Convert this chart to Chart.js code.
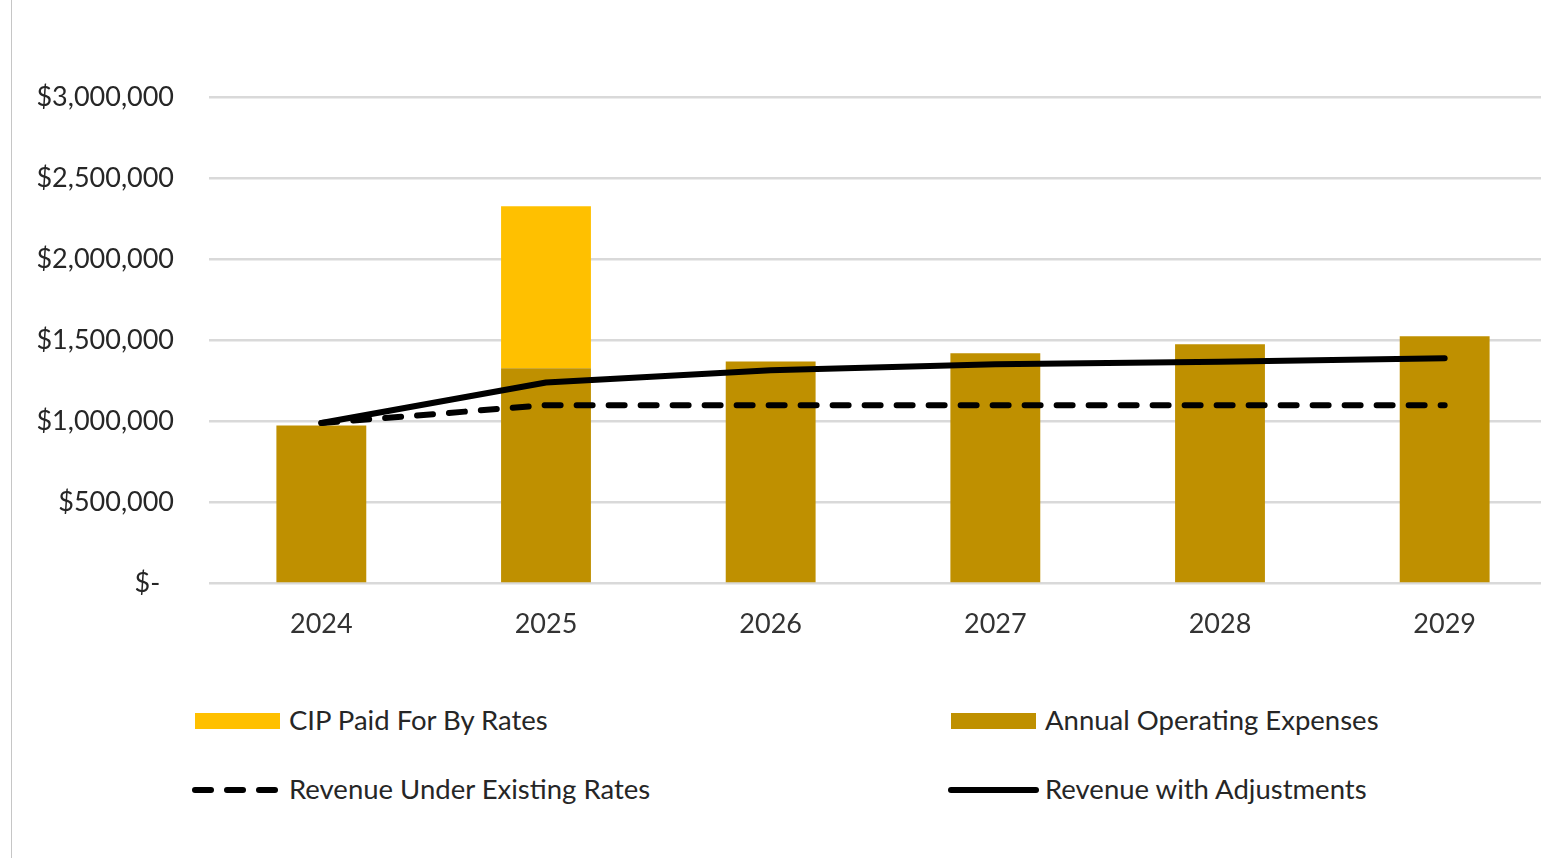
<!DOCTYPE html>
<html>
<head>
<meta charset="utf-8">
<script src="https://cdn.jsdelivr.net/npm/chart.js@4.4.1/dist/chart.umd.min.js"></script>
<style>
  html, body { margin: 0; padding: 0; background: #fff; overflow: hidden; width: 1541px; height: 858px; }
  #wrap { position: absolute; left: 0; top: 0; width: 1560px; height: 700px; }
  #frame { position: absolute; left: 11px; top: 0; width: 1px; height: 858px; background: #c6c6c6; }
  .leg { position: absolute; font-family: Lato, "Liberation Sans", sans-serif; font-size: 27.5px; color: #262626; line-height: 30px; white-space: nowrap; }
  .sw { position: absolute; }
</style>
</head>
<body>
<div id="frame"></div>
<div id="wrap"><canvas id="c"></canvas></div>
<div id="legend"></div>
<script>
const categories = ['2024', '2025', '2026', '2027', '2028', '2029'];
const operatingExpenses = [975000, 1327000, 1370000, 1420000, 1475000, 1525000];
const cipPaidByRates = [null, 1000000, null, null, null, null];
const revenueExisting = [990000, 1100000, 1100000, 1100000, 1100000, 1100000];
const revenueAdjusted = [990000, 1240000, 1315000, 1352000, 1367000, 1389000];
const yTickValues = [0, 500000, 1000000, 1500000, 2000000, 2500000, 3000000];
const yTickLabels = ['$-  ', '$500,000', '$1,000,000', '$1,500,000', '$2,000,000', '$2,500,000', '$3,000,000'];
const seriesNames = ['CIP Paid For By Rates', 'Annual Operating Expenses', 'Revenue Under Existing Rates', 'Revenue with Adjustments'];

const GOLD = '#FFC000', DARKGOLD = '#BF9000';
const FONT = 'Lato, "Liberation Sans", sans-serif';

const ctx = document.getElementById('c');
new Chart(ctx, {
  data: {
    labels: categories,
    datasets: [
      { type: 'line', label: seriesNames[3], data: revenueAdjusted, borderColor: '#000', borderWidth: 6,
        pointRadius: 0, borderCapStyle: 'round', borderJoinStyle: 'round', tension: 0, stack: 's3', order: 0 },
      { type: 'line', label: seriesNames[2], data: revenueExisting, borderColor: '#000', borderWidth: 6,
        borderDash: [16, 16], pointRadius: 0, borderCapStyle: 'round', borderJoinStyle: 'round', tension: 0, stack: 's2', order: 0 },
      { type: 'bar', label: seriesNames[1], data: operatingExpenses, backgroundColor: DARKGOLD, stack: 'bars', order: 1,
        barPercentage: 0.4, categoryPercentage: 1.0 },
      { type: 'bar', label: seriesNames[0], data: cipPaidByRates, backgroundColor: GOLD, stack: 'bars', order: 1,
        barPercentage: 0.4, categoryPercentage: 1.0 }
    ]
  },
  options: {
    responsive: true,
    maintainAspectRatio: false,
    animation: false,
    layout: { padding: { top: 97, right: 3, left: 0, bottom: 36 } },
    plugins: { legend: { display: false }, tooltip: { enabled: false } },
    scales: {
      x: {
        stacked: true,
        grid: { display: false, drawTicks: false },
        border: { display: false },
        ticks: { color: '#333333', font: { family: FONT, size: 27 }, padding: 24 }
      },
      y: {
        stacked: true,
        min: 0, max: 3000000,
        afterBuildTicks: (scale) => { scale.ticks = yTickValues.map(v => ({ value: v })); },
        afterFit: (scale) => { scale.width = 209; },
        grid: { color: '#d9d9d9', lineWidth: 2.5, drawTicks: false },
        border: { display: false },
        ticks: {
          color: '#262626', font: { family: FONT, size: 27 }, padding: 35,
          callback: (v) => { const i = yTickValues.indexOf(v); return i >= 0 ? yTickLabels[i] : ''; }
        }
      }
    }
  }
});

// HTML legend
const legend = document.getElementById('legend');
function addItem(x, y, name, kind, color) {
  if (kind === 'box') {
    const s = document.createElement('div');
    s.className = 'sw';
    s.style.cssText = `left:${x}px;top:${y - 8}px;width:85px;height:16px;background:${color};`;
    legend.appendChild(s);
  } else if (kind === 'solid') {
    const s = document.createElement('div');
    s.className = 'sw';
    s.style.cssText = `left:${x - 3}px;top:${y - 3}px;width:91px;height:6px;background:#000;border-radius:3px;`;
    legend.appendChild(s);
  } else {
    for (let k = 0; k < 3; k++) {
      const s = document.createElement('div');
      s.className = 'sw';
      s.style.cssText = `left:${x - 3 + k * 32}px;top:${y - 3}px;width:22px;height:6px;background:#000;border-radius:3px;`;
      legend.appendChild(s);
    }
  }
  const t = document.createElement('div');
  t.className = 'leg';
  t.textContent = name;
  t.style.left = (x + 94) + 'px';
  t.style.top = (y - 16) + 'px';
  legend.appendChild(t);
}
addItem(195, 721, seriesNames[0], 'box', GOLD);
addItem(951, 721, seriesNames[1], 'box', DARKGOLD);
addItem(195, 790, seriesNames[2], 'dash');
addItem(951, 790, seriesNames[3], 'solid');
</script>
</body>
</html>
